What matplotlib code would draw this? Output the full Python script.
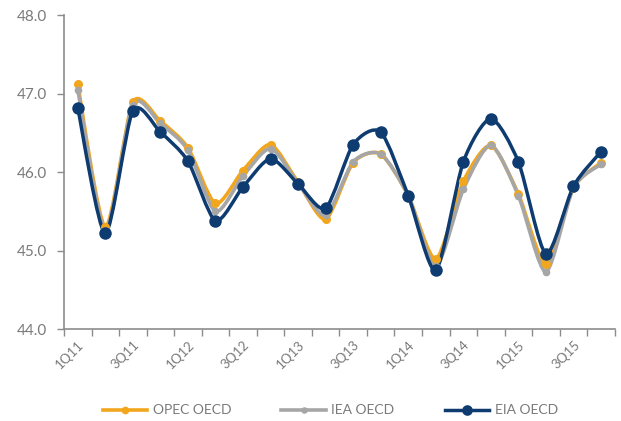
import numpy as np
import matplotlib
matplotlib.use("Agg")
import matplotlib.pyplot as plt
from matplotlib.path import Path
from matplotlib.patches import PathPatch
from matplotlib.lines import Line2D

plt.rcParams['font.family'] = ['Lato', 'DejaVu Sans']

quarters = ["1Q11", "2Q11", "3Q11", "4Q11", "1Q12", "2Q12", "3Q12", "4Q12",
            "1Q13", "2Q13", "3Q13", "4Q13", "1Q14", "2Q14", "3Q14", "4Q14",
            "1Q15", "2Q15", "3Q15", "4Q15"]

opec_oecd = [47.12, 45.30, 46.89, 46.65, 46.31, 45.60, 46.02, 46.35,
             45.87, 45.40, 46.12, 46.23, 45.70, 44.89, 45.88, 46.34,
             45.72, 44.83, 45.80, 46.12]
iea_oecd = [47.05, 45.25, 46.86, 46.62, 46.28, 45.50, 45.95, 46.30,
            45.86, 45.45, 46.13, 46.23, 45.70, 44.80, 45.78, 46.34,
            45.70, 44.73, 45.80, 46.10]
eia_oecd = [46.82, 45.22, 46.78, 46.51, 46.14, 45.38, 45.81, 46.17,
            45.85, 45.54, 46.35, 46.51, 45.70, 44.75, 46.13, 46.68,
            46.13, 44.96, 45.82, 46.26]

series = [
    ("OPEC OECD", opec_oecd, "#F2A61E", 2.6, 6.5),
    ("IEA OECD", iea_oecd, "#A6A6A6", 2.6, 5.5),
    ("EIA OECD", eia_oecd, "#0E3B70", 2.5, 9.0),
]

tick_grey = "#8C8C8C"
text_grey = "#7A7A7A"


def smooth_path(x, y, k=8.0):
    """Bezier path through every point (gentle Catmull-Rom style smoothing)."""
    pts = np.column_stack([x, y]).astype(float)
    n = len(pts)
    verts = [pts[0]]
    codes = [Path.MOVETO]
    for i in range(n - 1):
        p0 = pts[i - 1] if i > 0 else pts[i]
        p1 = pts[i]
        p2 = pts[i + 1]
        p3 = pts[i + 2] if i + 2 < n else pts[i + 1]
        c1 = p1 + (p2 - p0) / k
        c2 = p2 - (p3 - p1) / k
        verts += [c1, c2, p2]
        codes += [Path.CURVE4] * 3
    return Path(verts, codes)


fig = plt.figure(figsize=(6.21, 4.21), dpi=100)
ax = fig.add_axes([0.103, 0.2185, 0.887, 0.7455])

x = np.arange(len(quarters))
for name, vals, color, lw, ms in series:
    patch = PathPatch(smooth_path(x, vals), facecolor="none", edgecolor=color,
                      lw=lw, capstyle="round", joinstyle="round")
    ax.add_patch(patch)
    ax.plot(x, vals, linestyle="none", marker="o", markersize=ms,
            color=color, markeredgewidth=0)

ax.set_xlim(-0.5, len(quarters) - 0.5)
ax.set_ylim(44.0, 48.0)
yt = [44.0, 45.0, 46.0, 47.0, 48.0]
ax.set_yticks(yt)
ax.set_yticklabels([f"{v:.1f}" for v in yt])

# category boundary ticks, labels on every other quarter
ax.set_xticks(np.arange(-0.5, len(quarters)), minor=False)
ax.set_xticklabels([])
ax.set_xticks(x[::2], minor=True)
ax.set_xticklabels(quarters[::2], minor=True, rotation=45, ha="right",
                   va="top", rotation_mode="anchor")
ax.tick_params(axis="x", which="major", length=5, width=1.0, color=tick_grey,
               direction="out")
ax.tick_params(axis="x", which="minor", length=0, pad=7, labelsize=9.5,
               labelcolor=text_grey)
ax.tick_params(axis="y", length=5, width=1.0, color=tick_grey, pad=7,
               labelsize=11, labelcolor=text_grey)

for side in ["top", "right"]:
    ax.spines[side].set_visible(False)
for side in ["left", "bottom"]:
    ax.spines[side].set_color(tick_grey)
    ax.spines[side].set_linewidth(1.2)

handles = [Line2D([], [], color=c, lw=lw, marker="o", markersize=ms * 0.85,
                  markeredgewidth=0) for _, _, c, lw, ms in series]
fig.legend(handles, [s[0] for s in series], loc="center",
           bbox_to_anchor=(0.532, 0.025), ncol=3, frameon=False,
           fontsize=10, labelcolor=text_grey, handlelength=3.2,
           columnspacing=3.6, handletextpad=0.4)

fig.savefig("out.png", dpi=100)
